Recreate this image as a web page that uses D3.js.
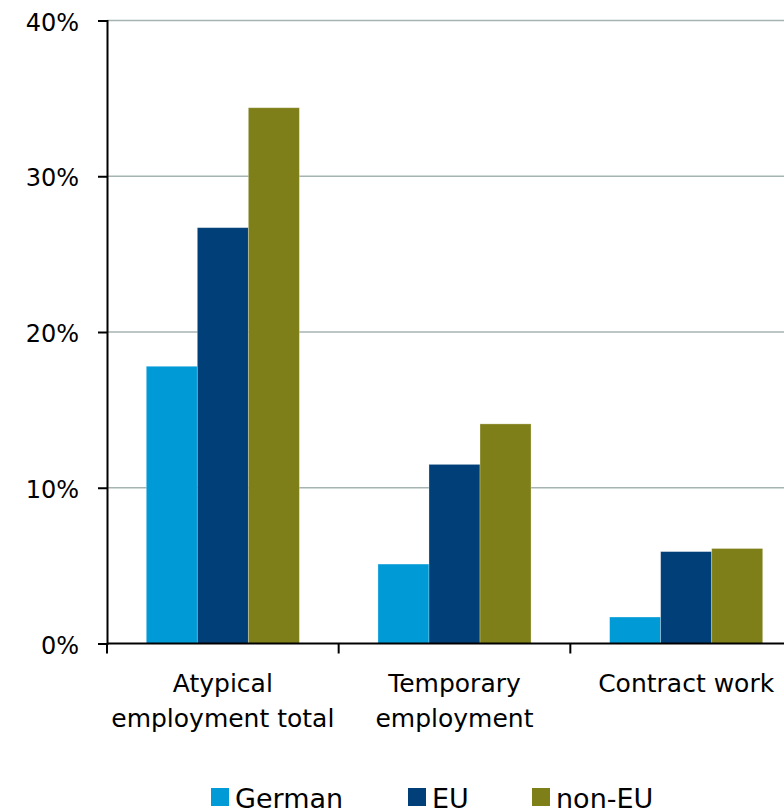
<!DOCTYPE html>
<html>
<head>
<meta charset="utf-8">
<script src="https://cdn.jsdelivr.net/npm/d3@7"></script>
<style>
  html, body { margin: 0; padding: 0; background: #fff; }
  svg { display: block; font-family: "DejaVu Sans", Verdana, sans-serif; }
</style>
</head>
<body>
<svg id="chart" width="784" height="809"></svg>
<script>
// Share of employees in atypical work, by nationality
const categories = [["Atypical", "employment total"], ["Temporary", "employment"], ["Contract work"]];
const seriesNames = ["German", "EU", "non-EU"];
const german = [17.8, 5.1, 1.7];
const eu = [26.7, 11.5, 5.9];
const nonEu = [34.4, 14.1, 6.1];
const yTicks = [0, 10, 20, 30, 40];
const colors = ["#009ad6", "#003f78", "#7f7f19"];

const values = [german, eu, nonEu];
const svg = d3.select("#chart");

const margin = { left: 107, top: 20.5, bottom: 643.5 };
const plotRight = 802;

const x0 = d3.scaleBand()
  .domain(d3.range(categories.length))
  .range([margin.left, plotRight])
  .paddingInner(0)
  .paddingOuter(0);

const x1 = d3.scaleBand()
  .domain(d3.range(seriesNames.length))
  .range([0, x0.bandwidth()])
  .paddingInner(0)
  .paddingOuter(0.77);

const y = d3.scaleLinear().domain([0, 40]).range([margin.bottom, margin.top]);

// gridlines
svg.append("g")
  .selectAll("line")
  .data(yTicks.filter(d => d > 0))
  .join("line")
  .attr("x1", margin.left)
  .attr("x2", 784)
  .attr("y1", d => y(d))
  .attr("y2", d => y(d))
  .attr("stroke", "#a6b3b3")
  .attr("stroke-width", 1.5);

// bars
const groups = svg.append("g")
  .selectAll("g")
  .data(categories.map((c, i) => i))
  .join("g")
  .attr("transform", i => `translate(${x0(i)},0)`);

groups.selectAll("rect")
  .data(i => seriesNames.map((s, j) => ({ j, v: values[j][i] })))
  .join("rect")
  .attr("x", d => x1(d.j))
  .attr("width", x1.bandwidth())
  .attr("y", d => y(d.v))
  .attr("height", d => y(0) - y(d.v))
  .attr("fill", d => colors[d.j])
  .attr("stroke", "rgba(255,255,255,0.35)")
  .attr("stroke-width", 0.8);

// y axis
const yAxis = svg.append("g")
  .attr("transform", `translate(${margin.left},0)`)
  .call(d3.axisLeft(y).tickValues(yTicks).tickFormat(d => d + "%").tickSize(9).tickPadding(19));
yAxis.attr("font-family", null).attr("font-size", null);
yAxis.select(".domain").attr("stroke", "#000").attr("stroke-width", 2);
yAxis.selectAll(".tick line").attr("stroke", "#000").attr("stroke-width", 2);
yAxis.selectAll(".tick text")
  .attr("font-size", 24)
  .attr("fill", "#000")
  .attr("dy", "0.4em");

// x axis
const xAxis = svg.append("g")
  .attr("transform", `translate(0,${margin.bottom})`);
xAxis.append("line")
  .attr("x1", margin.left).attr("x2", 784)
  .attr("stroke", "#000").attr("stroke-width", 2);
xAxis.selectAll("line.tick")
  .data(d3.range(categories.length + 1).map(i => i < categories.length ? x0(i) : plotRight))
  .join("line")
  .attr("class", "tick")
  .attr("x1", d => d).attr("x2", d => d)
  .attr("y1", 0).attr("y2", 10)
  .attr("stroke", "#000").attr("stroke-width", 2);

const labels = xAxis.selectAll("text")
  .data(categories)
  .join("text")
  .attr("x", (d, i) => x0(i) + x0.bandwidth() / 2)
  .attr("y", 48.5)
  .attr("text-anchor", "middle")
  .attr("font-size", 25)
  .attr("fill", "#000");
labels.selectAll("tspan")
  .data(d => d)
  .join("tspan")
  .attr("x", function () { return this.parentNode.getAttribute("x"); })
  .attr("dy", (d, k) => k === 0 ? 0 : 35)
  .text(d => d);

// legend
const legendX = [211, 408, 532];
const legend = svg.append("g");
const items = legend.selectAll("g")
  .data(seriesNames)
  .join("g")
  .attr("transform", (d, i) => `translate(${legendX[i]},788)`);
items.append("rect")
  .attr("width", 18).attr("height", 18)
  .attr("fill", (d, i) => colors[i]);
items.append("text")
  .attr("x", 24).attr("y", 19.5)
  .attr("font-size", 27)
  .attr("fill", "#000")
  .text(d => d);
</script>
</body>
</html>
